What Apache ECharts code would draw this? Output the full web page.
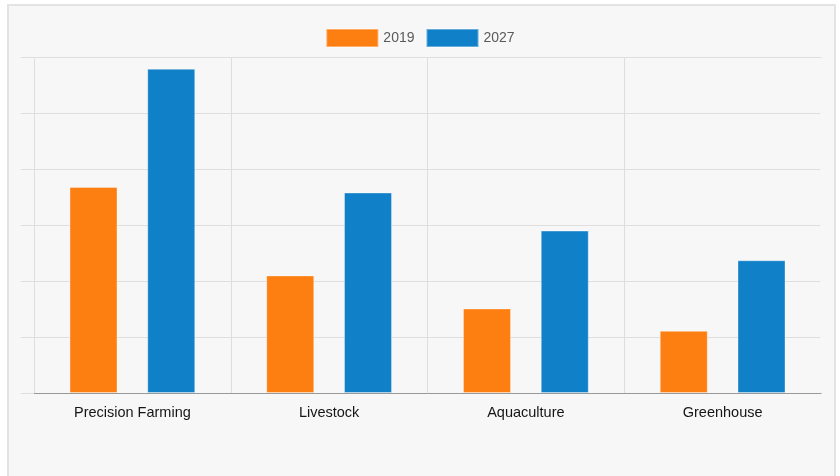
<!DOCTYPE html>
<html>
<head>
<meta charset="utf-8">
<script src="https://cdn.jsdelivr.net/npm/echarts@6/dist/echarts.min.js"></script>
<style>
  html, body { margin: 0; padding: 0; background: #fff; overflow: hidden; }
  #chart { width: 840px; height: 476px; }
</style>
</head>
<body>
<div id="chart"></div>
<script>
// categories and values
var categories = ['Precision Farming', 'Livestock', 'Aquaculture', 'Greenhouse']
var seriesNames = ['2019', '2027']
var values2019 = [36.8, 21.0, 15.1, 11.1]
var values2027 = [57.9, 35.8, 29.0, 23.7]
var yMax = 60
var yStep = 10

var chart = echarts.init(document.getElementById('chart'))

var font = "'Liberation Sans', Arial, sans-serif"
var gridColor = '#dedede'

chart.setOption({
  animation: false,
  textStyle: { fontFamily: font },
  graphic: [{
    // panel with light frame
    type: 'rect',
    z: -10,
    shape: { x: 8, y: 5, width: 827, height: 480 },
    style: { fill: '#f7f7f7', stroke: '#e3e3e3', lineWidth: 2 }
  }, {
    // hide the split line on the far right edge (reference has none)
    type: 'rect',
    z: 100,
    shape: { x: 820.5, y: 57.5, width: 2, height: 335 },
    style: { fill: '#f7f7f7' }
  }, {
    type: 'rect',
    z: 100,
    shape: { x: 820.5, y: 394, width: 2, height: 14 },
    style: { fill: '#f7f7f7' }
  }],
  legend: {
    top: 23,
    left: 'center',
    icon: 'rect',
    itemWidth: 52,
    itemHeight: 18,
    itemGap: 11,
    textStyle: { fontSize: 14, color: '#5a5a5a', fontFamily: font },
    data: seriesNames
  },
  grid: {
    left: 34,
    right: 19,
    top: 57,
    bottom: 83
  },
  xAxis: {
    type: 'category',
    data: categories,
    axisLine: { lineStyle: { color: '#999' } },
    axisTick: { length: 12, lineStyle: { color: gridColor } },
    splitLine: { show: true, lineStyle: { color: gridColor } },
    axisLabel: { fontSize: 14.5, color: '#151515', margin: 12, fontFamily: font }
  },
  yAxis: {
    type: 'value',
    min: 0,
    max: yMax,
    interval: yStep,
    axisLine: { show: false },
    axisTick: { show: true, length: 13, lineStyle: { color: gridColor } },
    axisLabel: { show: false },
    splitLine: { lineStyle: { color: gridColor } }
  },
  series: [{
    name: seriesNames[0],
    type: 'bar',
    data: values2019,
    barWidth: 48,
    barGap: '62%',
    itemStyle: { color: '#fd7f12', borderColor: 'rgba(255,255,255,0.35)', borderWidth: 1 }
  }, {
    name: seriesNames[1],
    type: 'bar',
    data: values2027,
    barWidth: 48,
    barGap: '62%',
    itemStyle: { color: '#1080c8', borderColor: 'rgba(255,255,255,0.35)', borderWidth: 1 }
  }]
})
</script>
</body>
</html>
